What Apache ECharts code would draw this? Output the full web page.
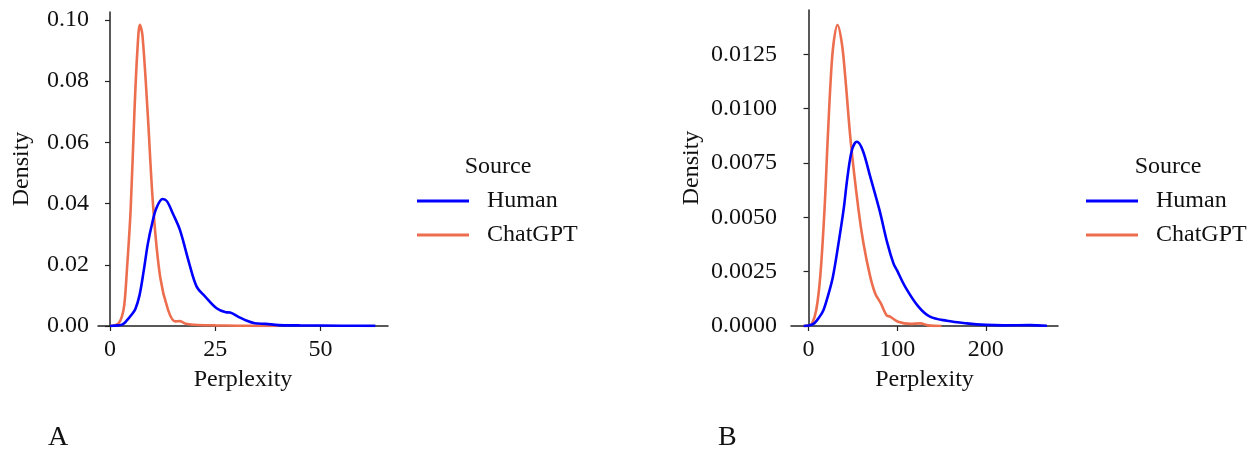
<!DOCTYPE html>
<html>
<head>
<meta charset="utf-8">
<script src="https://cdn.jsdelivr.net/npm/echarts@6/dist/echarts.min.js"></script>
<style>
  html, body { margin: 0; padding: 0; background: #fff; }
  #chart { width: 1255px; height: 450px; }
</style>
</head>
<body>
<div id="chart"></div>
<script>
// 两个核密度图：A 和 B
var seriesNames = ['Human', 'ChatGPT'];

// 图 A 数据
var humanAx = [0, 2, 3, 4, 5, 6, 7, 8, 9, 10, 11, 12.5, 13.5, 15, 16.6, 18.8, 20.6, 22.6, 25.3, 27.5, 28.5, 30.5, 32.5, 34.4, 37, 40, 45, 55, 63];
var humanAy = [0, 0.0002, 0.0005, 0.0018, 0.0035, 0.0055, 0.0100, 0.0180, 0.0270, 0.0335, 0.0385, 0.0415, 0.0408, 0.0365, 0.0314, 0.0205, 0.0128, 0.0096, 0.0058, 0.0045, 0.0044, 0.0030, 0.0017, 0.0009, 0.0007, 0.0003, 0.0002, 0.0001, 0.00005];
var gptAx = [0, 1, 2, 2.8, 3.4, 4.0, 4.9, 5.8, 6.5, 7.1, 7.7, 8.9, 10.3, 11.9, 13.8, 15.5, 16.6, 18, 20, 25, 30, 35, 40];
var gptAy = [0, 0.0002, 0.0008, 0.003, 0.007, 0.018, 0.038, 0.070, 0.090, 0.0984, 0.095, 0.0706, 0.038, 0.0161, 0.0052, 0.0015, 0.0016, 0.0007, 0.0004, 0.0002, 0.0001, 0.00005, 0];
var xTicksA = [0, 25, 50];
var yTicksA = [0, 0.02, 0.04, 0.06, 0.08, 0.10];

// 图 B 数据
var humanBx = [-5.6, 0, 6.4, 12, 16.9, 22, 27.5, 33.8, 39.5, 44, 49, 54.5, 61, 69.6, 80, 89, 95.8, 99.6, 109, 124, 137, 156, 178.6, 200, 220, 250, 269];
var humanBy = [0, 0.00002, 0.00012, 0.0004, 0.00074, 0.0014, 0.00227, 0.0038, 0.00534, 0.00687, 0.0081, 0.00848, 0.0081, 0.00687, 0.00534, 0.0038, 0.00288, 0.00258, 0.00181, 0.00089, 0.00043, 0.00024, 0.00012, 0.00005, 0.00003, 0.00004, 0.00001];
var gptBx = [-5.6, 0, 3.8, 8.7, 13.2, 18, 21.4, 25.2, 28.2, 32.7, 37.6, 41.4, 47.8, 56.4, 62, 69.6, 75.2, 81.6, 88, 92, 101, 115, 126, 135, 150];
var gptBy = [0, 0.00002, 0.0001, 0.00074, 0.00227, 0.00534, 0.0084, 0.01147, 0.0130, 0.01385, 0.0130, 0.01147, 0.0084, 0.00534, 0.0038, 0.00227, 0.0015, 0.00104, 0.0005, 0.00043, 0.0002, 0.0001, 0.00012, 0.00003, 0];
var xTicksB = [0, 100, 200];
var yTicksB = [0, 0.0025, 0.005, 0.0075, 0.01, 0.0125];

var blue = '#0000ff';
var orange = '#ec6e4e';
var font = 'Liberation Serif';
var textColor = '#111';

function zip(xs, ys) {
  return xs.map(function (x, i) { return [x, ys[i]]; });
}

function xAxisOf(idx, min, max, ticks) {
  return {
    type: 'value', gridIndex: idx, min: min, max: max,
    name: 'Perplexity', nameLocation: 'middle', nameGap: 42,
    nameTextStyle: { fontFamily: font, fontSize: 24, color: textColor },
    splitLine: { show: false },
    axisLine: { lineStyle: { color: '#222', width: 1.5 } },
    axisTick: { customValues: ticks, length: 5, lineStyle: { color: '#222', width: 1.2 } },
    axisLabel: { customValues: ticks, fontFamily: font, fontSize: 24, color: textColor, margin: 12 }
  };
}

function yAxisOf(idx, max, ticks, digits, gap, margin) {
  return {
    type: 'value', gridIndex: idx, min: 0, max: max,
    name: 'Density', nameLocation: 'middle', nameGap: gap,
    nameTextStyle: { fontFamily: font, fontSize: 24, color: textColor },
    splitLine: { show: false },
    axisLine: { show: true, lineStyle: { color: '#222', width: 1.5 } },
    axisTick: { show: true, customValues: ticks, length: 5, lineStyle: { color: '#222', width: 1.2 } },
    axisLabel: {
      customValues: ticks, fontFamily: font, fontSize: 24, color: textColor, margin: margin,
      formatter: function (v) { return v.toFixed(digits); }
    }
  };
}

function lineOf(name, color, idx, data) {
  return {
    name: name, type: 'line', xAxisIndex: idx, yAxisIndex: idx,
    data: data, smooth: 0.35, symbol: 'none',
    color: color, lineStyle: { color: color, width: 2.6 }, z: name === 'Human' ? 3 : 2
  };
}

function legendOf(left) {
  return {
    orient: 'vertical', left: left, top: 189, padding: 0, data: seriesNames,
    icon: 'rect', itemWidth: 52, itemHeight: 3, itemGap: 10,
    textStyle: { fontFamily: font, fontSize: 24, color: textColor, padding: [0, 0, 0, 13], lineHeight: 24 },
    selectedMode: false
  };
}

function labelOf(text, left, top, size, align) {
  return {
    text: text, left: left, top: top, padding: 0, textAlign: align,
    textStyle: { fontFamily: font, fontSize: size, fontWeight: 'normal', color: textColor }
  };
}

var chart = echarts.init(document.getElementById('chart'));
chart.setOption({
  animation: false,
  backgroundColor: '#fff',
  title: [
    labelOf('Source', 498, 155, 24, 'center'),
    labelOf('Source', 1168, 155, 24, 'center'),
    labelOf('A', 48, 424, 28, 'left'),
    labelOf('B', 718, 424, 28, 'left')
  ],
  legend: [legendOf(417), legendOf(1086)],
  grid: [
    { left: 98, top: 12, width: 290, height: 314 },
    { left: 791, top: 10, width: 267, height: 316 }
  ],
  xAxis: [xAxisOf(0, -2.85, 66, xTicksA), xAxisOf(1, -19.8, 281.5, xTicksB)],
  yAxis: [yAxisOf(0, 0.1026, yTicksA, 2, 64, 9), yAxisOf(1, 0.01454, yTicksB, 4, 87, 14)],
  series: [
    lineOf('Human', blue, 0, zip(humanAx, humanAy)),
    lineOf('ChatGPT', orange, 0, zip(gptAx, gptAy)),
    lineOf('Human', blue, 1, zip(humanBx, humanBy)),
    lineOf('ChatGPT', orange, 1, zip(gptBx, gptBy))
  ]
});
</script>
</body>
</html>
